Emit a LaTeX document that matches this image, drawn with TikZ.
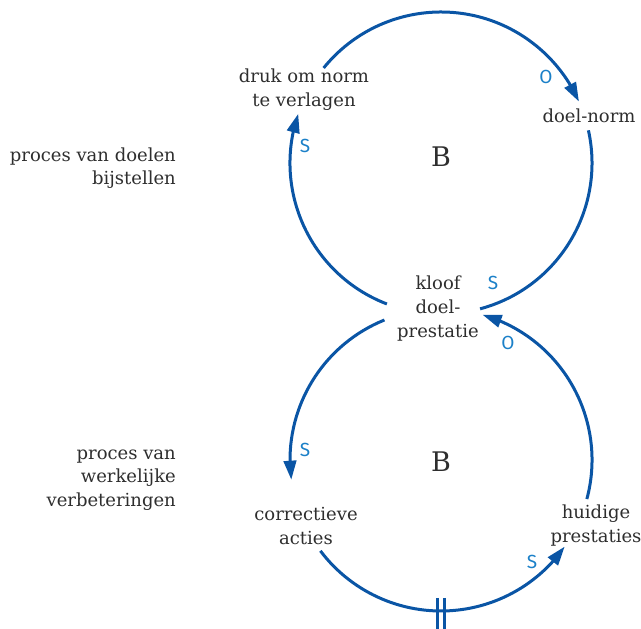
\documentclass[tikz,border=0pt]{standalone}
\usepackage{fontspec}
\setmainfont{DejaVu Serif}
\newfontfamily\polfont{Fira Sans}
\usetikzlibrary{arrows.meta,bending}
\definecolor{loopblue}{HTML}{0A55A5}
\definecolor{polblue}{HTML}{1B80C8}
\definecolor{txtgray}{HTML}{2E2E2E}
\begin{document}
\begin{tikzpicture}[x=1pt,y=1pt,
  link/.style={draw=loopblue,line width=3pt},
  tip/.style={-{Triangle[length=19pt,width=12.5pt,flex]}},
  var/.style={text=txtgray,align=center,inner sep=0pt,font={\fontsize{18}{24}\selectfont}},
  side/.style={text=txtgray,align=right,anchor=east,inner sep=0pt,font={\fontsize{18}{23.5}\selectfont}},
  pol/.style={text=polblue,inner sep=0pt,font={\polfont\fontsize{19}{22}\selectfont}},
  loopname/.style={text=txtgray,inner sep=0pt,font={\fontsize{27}{30}\selectfont}}]
\useasboundingbox (0,0) rectangle (641,629);

% loop centres
\coordinate (top) at (441,466);
\coordinate (bot) at (441,169);

% variables
\node[var] (druk) at (304,539) {druk om norm\\te verlagen};
\node[var] (norm) at (589,513) {doel-norm};
\node[var] (kloof) at (438,320) {kloof\\doel-\\prestatie};
\node[var] (corr) at (306,103) {correctieve\\acties};
\node[var] (huid) at (596,103) {huidige\\prestaties};

\node[side] (procA) at (176,461) {proces van doelen\\bijstellen};
\node[side] (procB) at (176,149) {proces van\\werkelijke\\verbeteringen};

\node[loopname] (bA) at (441,472) {B};
\node[loopname] (bB) at (441,167) {B};

% upper loop: goal adjustment
\draw[link,tip] (top) ++(249:151) arc[start angle=249,end angle=161,radius=151];
\draw[link,tip] (top) ++(141:151) arc[start angle=141,end angle=24,radius=151];
\draw[link] (top) ++(12.5:151) arc[start angle=12.5,end angle=-75,radius=151];

% lower loop: actual improvement
\draw[link,tip] (bot) ++(112:151) arc[start angle=112,end angle=187.5,radius=151];
\draw[link,tip] (bot) ++(217:151) arc[start angle=217,end angle=325,radius=151];
\draw[link,tip] (bot) ++(-15:151) arc[start angle=-15,end angle=74,radius=151];

% delay mark
\coordinate (delay) at (441,18);
\draw[loopblue,line width=2.8pt] ([xshift=-3.7pt]delay) ++(0,13) -- ++(0,-31);
\draw[loopblue,line width=2.8pt] ([xshift=3.7pt]delay) ++(0,13) -- ++(0,-31);

% polarities
\node[pol] (p1) at (305,483) {S};
\node[pol] (p2) at (546,552) {O};
\node[pol] (p3) at (493,346) {S};
\node[pol] (p4) at (508,286) {O};
\node[pol] (p5) at (305,179) {S};
\node[pol] (p6) at (532,67) {S};
\end{tikzpicture}
\end{document}
